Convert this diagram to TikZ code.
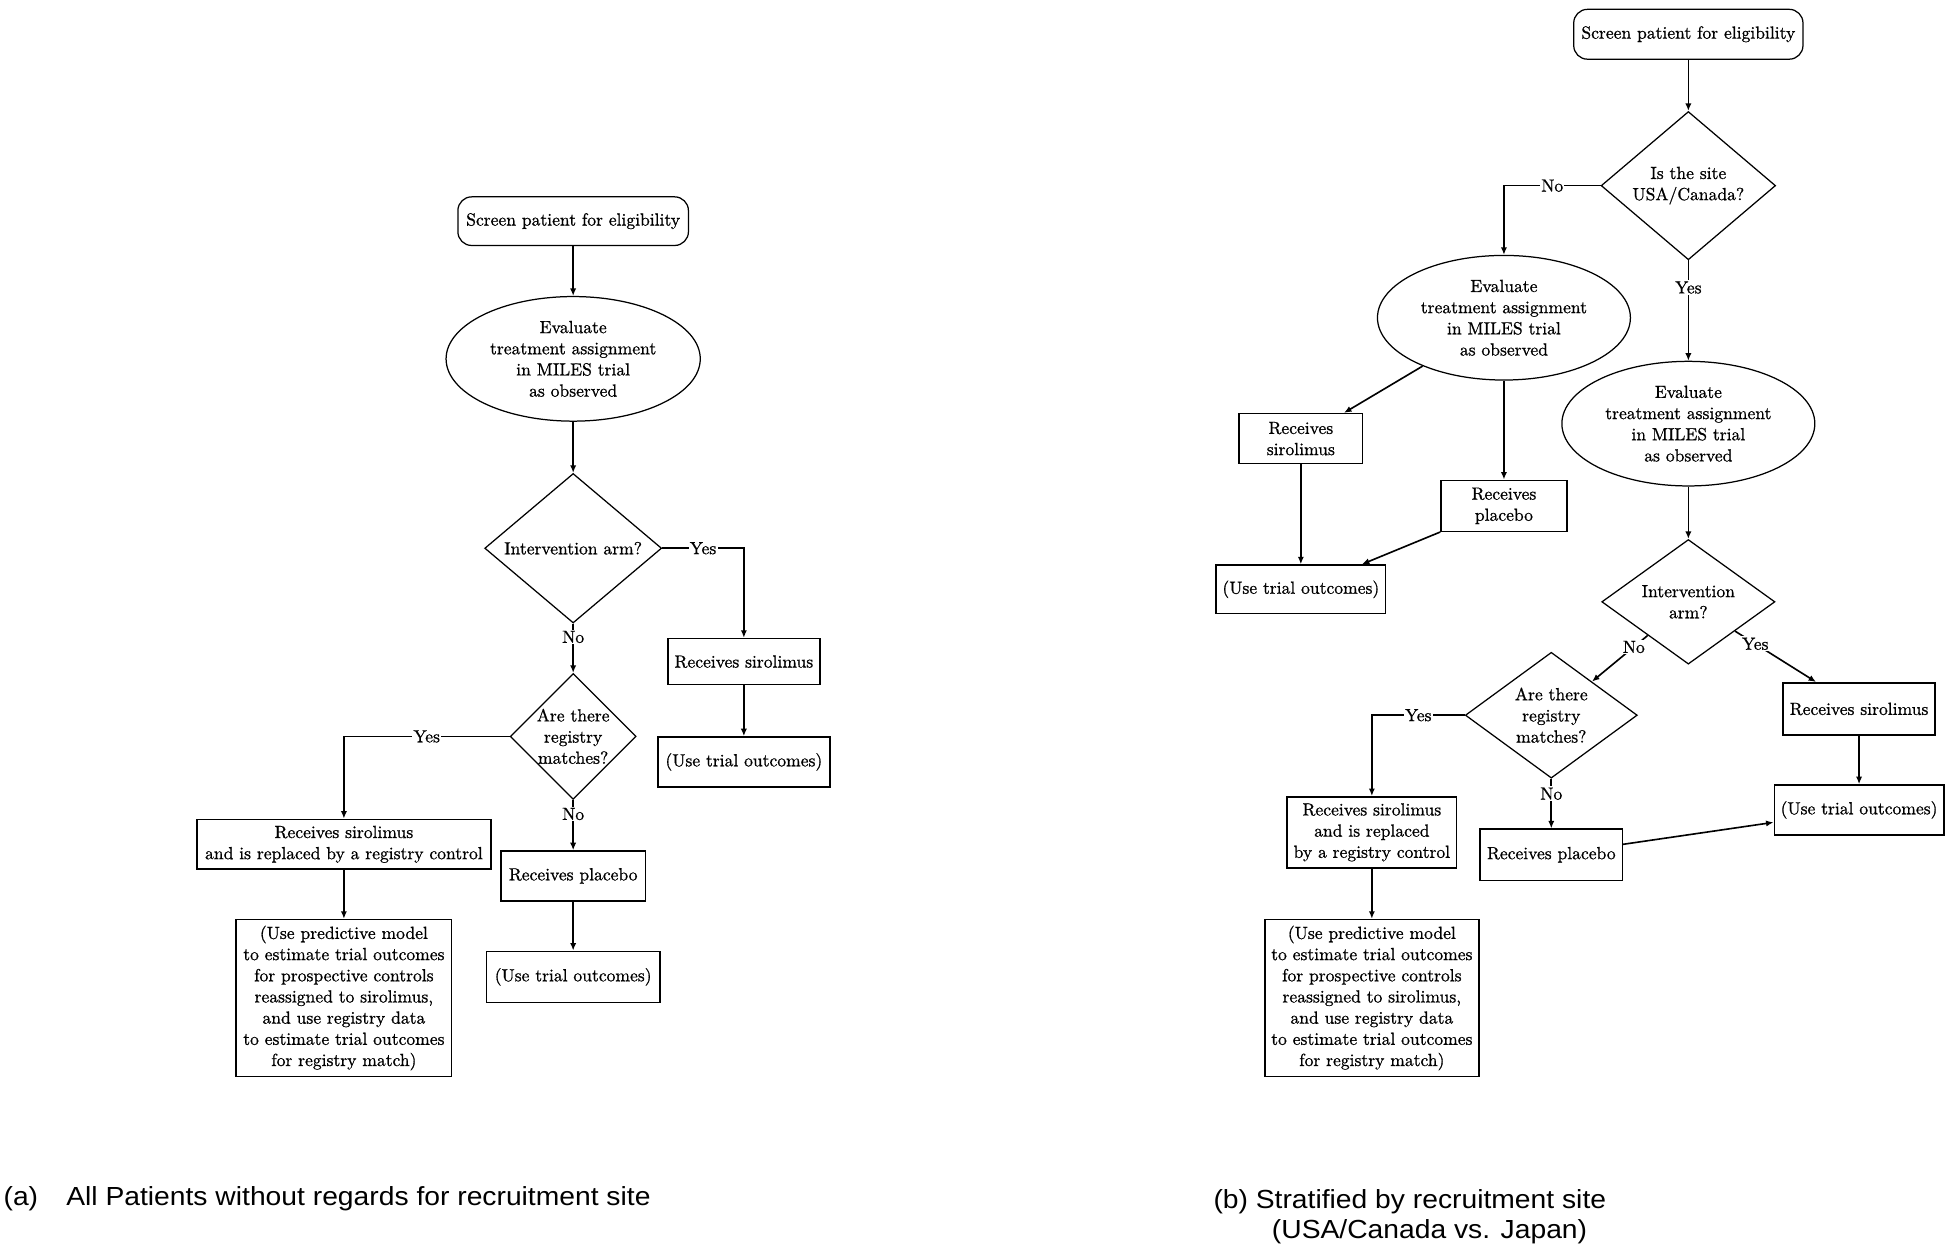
\documentclass[tikz,border=0pt]{standalone}
\usepackage{fontspec}
\newfontfamily\capfont{Liberation Sans}[FakeStretch=1.08]
\newfontfamily\diafont{lmroman10-regular.otf}[FakeBold=0.8]
\usetikzlibrary{shapes.geometric,arrows.meta}
\begin{document}
\begin{tikzpicture}[x=1pt,y=-1pt,
  every node/.style={font=\diafont\fontsize{14.1}{17}\selectfont, inner sep=0pt, align=center},
  box/.style={draw, rectangle, line width=1.3pt},
  rbox/.style={draw, rectangle, rounded corners=11pt, line width=1pt},
  ell/.style={draw, ellipse, line width=1pt},
  dia/.style={draw, diamond, aspect=1, line width=1pt},
  lab/.style={fill=white, inner sep=1pt},
  arr/.style={line width=1.3pt, -{Latex[length=6pt,width=5pt]}},
  captext/.style={font=\capfont\fontsize{21}{24}\selectfont, anchor=base west}
]
\fill[white] (0,0) rectangle (1565,1003.2);
\useasboundingbox (0,0) rectangle (1565,1003.2);

% ---------- (a) ----------
\node[rbox, minimum width=185pt, minimum height=39pt] (scrA) at (460,177.5) {Screen patient for eligibility};
\node[ell, minimum width=204pt, minimum height=100pt] (evA) at (460,288) {Evaluate\\treatment assignment\\in MILES trial\\as observed};
\node[dia, minimum width=142pt, minimum height=120pt] (intA) at (460,440) {};
\node (intAt) at (intA) {Intervention arm?};
\node[box, minimum width=122pt, minimum height=37pt] (sirA) at (597,531) {Receives sirolimus};
\node[box, minimum width=138pt, minimum height=40pt] (outA1) at (597,611.5) {(Use trial outcomes)};
\node[dia, minimum width=101pt, minimum height=101pt] (regA) at (460,591) {};
\node (regAt) at (regA) {Are there\\registry\\matches?};
\node[box, minimum width=236pt, minimum height=40pt] (repA) at (276,677.6) {Receives sirolimus\\and is replaced by a registry control};
\node[box, minimum width=173pt, minimum height=126pt] (modA) at (276,801) {(Use predictive model\\to estimate trial outcomes\\for prospective controls\\reassigned to sirolimus,\\and use registry data\\to estimate trial outcomes\\for registry match)};
\node[box, minimum width=116pt, minimum height=40pt] (plaA) at (460,703) {Receives placebo};
\node[box, minimum width=139pt, minimum height=41pt] (outA2) at (460,784) {(Use trial outcomes)};

\draw[arr] (scrA) -- (evA);
\draw[arr] (evA) -- (intA);
\draw[arr] (intA.east) -| node[lab,pos=0.25] (yA1) {Yes} (sirA.north);
\draw[arr] (sirA) -- (outA1);
\draw[arr] (intA.south) -- node[lab,pos=0.27] (nA1) {No} (regA.north);
\draw[arr] (regA.west) -| node[lab,pos=0.25] (yA2) {Yes} (repA.north);
\draw[arr] (repA) -- (modA);
\draw[arr] (regA.south) -- node[lab,pos=0.28] (nA2) {No} (plaA.north);
\draw[arr] (plaA) -- (outA2);

% ---------- (b) ----------
\node[rbox, minimum width=184pt, minimum height=40pt] (scrB) at (1355,27.5) {Screen patient for eligibility};
\node[dia, minimum width=140pt, minimum height=119pt] (siteB) at (1355,149) {};
\node (siteBt) at (siteB) {Is the site\\USA/Canada?};
\node[ell, minimum width=203pt, minimum height=100pt] (evB1) at (1207,255) {Evaluate\\treatment assignment\\in MILES trial\\as observed};
\node[ell, minimum width=203pt, minimum height=100pt] (evB2) at (1355,340) {Evaluate\\treatment assignment\\in MILES trial\\as observed};
\node[box, minimum width=99pt, minimum height=40pt] (sirB1) at (1044,352) {Receives\\sirolimus};
\node[box, minimum width=101pt, minimum height=41pt] (plaB1) at (1207,406) {Receives\\placebo};
\node[box, minimum width=136pt, minimum height=39pt] (outB1) at (1044,473) {(Use trial outcomes)};
\node[dia, minimum width=139pt, minimum height=100pt] (intB) at (1355,483) {};
\node (intBt) at (intB) {Intervention\\arm?};
\node[dia, minimum width=138pt, minimum height=101pt] (regB) at (1245,574) {};
\node (regBt) at (regB) {Are there\\registry\\matches?};
\node[box, minimum width=122pt, minimum height=42pt] (sirB2) at (1492,569) {Receives sirolimus};
\node[box, minimum width=136pt, minimum height=40pt] (outB2) at (1492,650) {(Use trial outcomes)};
\node[box, minimum width=136pt, minimum height=57pt] (repB) at (1101,668) {Receives sirolimus\\and is replaced\\by a registry control};
\node[box, minimum width=114pt, minimum height=41pt] (plaB2) at (1245,686) {Receives placebo};
\node[box, minimum width=172pt, minimum height=126pt] (modB) at (1101,801) {(Use predictive model\\to estimate trial outcomes\\for prospective controls\\reassigned to sirolimus,\\and use registry data\\to estimate trial outcomes\\for registry match)};

\draw[arr] (scrB) -- (siteB);
\draw[arr] (siteB.west) -| node[lab,pos=0.25] (nB1) {No} (evB1.north);
\draw[arr] (siteB.south) -- node[lab,pos=0.27] (yB1) {Yes} (evB2.north);
\draw[arr] (evB1) -- (sirB1);
\draw[arr] (evB1) -- (plaB1);
\draw[arr] (sirB1) -- (outB1);
\draw[arr] (plaB1) -- (outB1);
\draw[arr] (evB2) -- (intB);
\draw[arr] (intB) -- node[lab,pos=0.25] (nB2) {No} (regB);
\draw[arr] (intB) -- node[lab,pos=0.25] (yB2) {Yes} (sirB2);
\draw[arr] (regB.west) -| node[lab,pos=0.25] (yB3) {Yes} (repB.north);
\draw[arr] (regB.south) -- node[lab,pos=0.3] (nB3) {No} (plaB2.north);
\draw[arr] (repB) -- (modB);
\draw[arr] (plaB2) -- (outB2);
\draw[arr] (sirB2) -- (outB2);

% ---------- captions ----------
\node[captext] (capA1) at (2.7,967.7) {(a)};
\node[captext] (capA2) at (53,967.7) {All Patients without regards for recruitment site};
\node[captext] (capB1) at (973.7,969.8) {(b) Stratified by recruitment site};
\node[captext] (capB2) at (1020.6,993.9) {(USA/Canada vs. Japan)};
\end{tikzpicture}
\end{document}
